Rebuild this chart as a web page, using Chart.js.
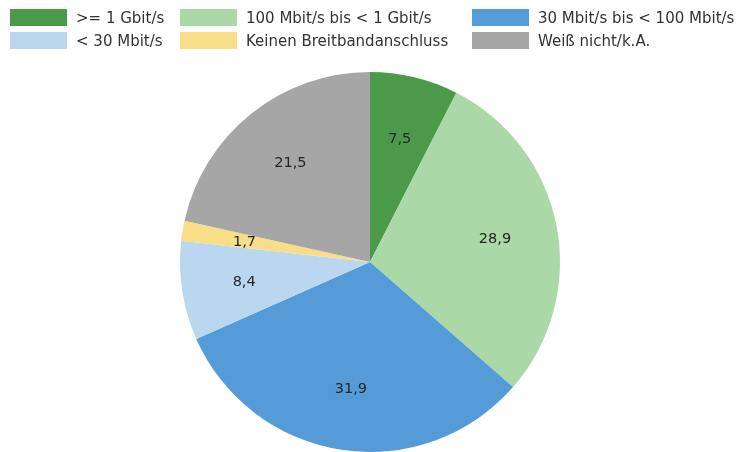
<!DOCTYPE html>
<html><head><meta charset="utf-8">
<script src="https://cdn.jsdelivr.net/npm/chart.js@4/dist/chart.umd.min.js"></script>
<style>
html,body{margin:0;padding:0;background:#fff;}
#wrap{position:relative;width:745px;height:452px;overflow:hidden;}
#c{position:absolute;left:0;top:0;}
.lg{position:absolute;display:flex;align-items:center;font-family:"DejaVu Sans",sans-serif;font-size:15px;color:#333;white-space:nowrap;}
.lg span.b{display:inline-block;width:57px;height:17px;margin-right:9px;}
</style></head>
<body><div id="wrap"><canvas id="c" width="745" height="452"></canvas></div>
<script>
const categories = [">= 1 Gbit/s","100 Mbit/s bis < 1 Gbit/s","30 Mbit/s bis < 100 Mbit/s","< 30 Mbit/s","Keinen Breitbandanschluss","Weiß nicht/k.A."];
const values = [7.5, 28.9, 31.9, 8.4, 1.7, 21.5];
const valueLabels = ["7,5","28,9","31,9","8,4","1,7","21,5"];
const colors = ["#4b9a49","#aad8a7","#559bd7","#bbd7ef","#f8df87","#a6a6a6"];

// HTML legend laid out in a 3-column grid
const legendPos = [[10,9],[180,9],[472,9],[10,32],[180,32],[472,32]];
const wrap = document.getElementById('wrap');
categories.forEach((c,i)=>{
  const d = document.createElement('div');
  d.className='lg';
  d.style.left = legendPos[i][0]+'px';
  d.style.top = legendPos[i][1]+'px';
  d.style.height='17px';
  const b = document.createElement('span'); b.className='b'; b.style.background=colors[i];
  const t = document.createElement('span'); t.textContent=c;
  d.appendChild(b); d.appendChild(t); wrap.appendChild(d);
});

const labelPlugin = {
  id:'sliceLabels',
  afterDatasetsDraw(chart){
    const ctx = chart.ctx;
    const meta = chart.getDatasetMeta(0);
    ctx.save();
    ctx.font = '14.5px "DejaVu Sans", sans-serif';
    ctx.fillStyle = '#262626';
    ctx.textAlign='center'; ctx.textBaseline='middle';
    meta.data.forEach((arc,i)=>{
      const p = arc.getProps(['x','y','startAngle','endAngle','outerRadius'],true);
      const a = (p.startAngle+p.endAngle)/2;
      const r = p.outerRadius*0.67;
      ctx.fillText(valueLabels[i], p.x+Math.cos(a)*r, p.y+Math.sin(a)*r+1);
    });
    ctx.restore();
  }
};

new Chart(document.getElementById('c'),{
  type:'pie',
  data:{labels:categories,datasets:[{data:values,backgroundColor:colors,borderWidth:0}]},
  options:{
    responsive:false,animation:false,
    layout:{padding:{top:72,left:180,right:185,bottom:0}},
    plugins:{legend:{display:false},tooltip:{enabled:false}}
  },
  plugins:[labelPlugin]
});
</script></body></html>
